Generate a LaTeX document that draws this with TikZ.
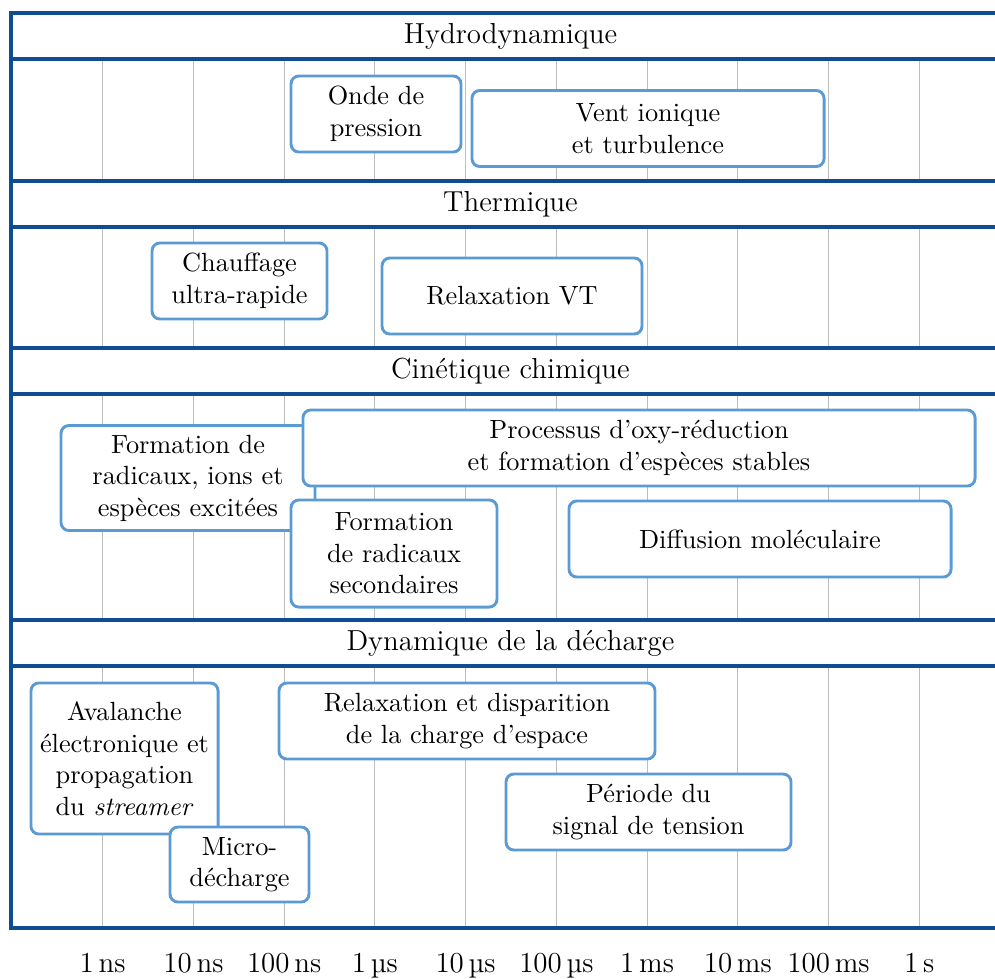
\documentclass[tikz,border=0pt]{standalone}
\usepackage{xcolor}
\usepackage{tikz}

\definecolor{bleufonce}{RGB}{16,76,145}
\definecolor{bleuclair}{RGB}{91,155,213}
\definecolor{grisgrille}{RGB}{190,190,190}

\tikzset{
	cadre/.style = {draw=bleufonce, line width=1.2pt},
	grille/.style = {draw=grisgrille, line width=0.4pt},
	titre/.style = {font=\fontsize{11}{13.6}\selectfont},
	proc/.style = {draw=bleuclair, line width=1.1pt, rounded corners=3pt, fill=white,
		align=center, inner sep=2pt, minimum height=28.9pt, font=\fontsize{10}{12}\selectfont}
}

\begin{document}
\begin{tikzpicture}[x=0.38pt, y=-0.38pt]
			\useasboundingbox (0,0) rectangle (995,978);
			
			% grille des decades
			\foreach \x in {102.7,193.4,284.2,374.9,465.6,556.4,647.1,737.8,828.5,919.3}
				\foreach \ya/\yb in {59/181, 227/348, 394/620, 666/928}
					\draw [grille] (\x,\ya) -- (\x,\yb);
			
			% cadre et bandeaux
			\draw [cadre] (1010,13) -- (11,13) -- (11,928) -- (1010,928) -- cycle;
			\draw [cadre] (11,59) -- (1010,59);
			\draw [cadre] (11,181) -- (1010,181);
			\draw [cadre] (11,227) -- (1010,227);
			\draw [cadre] (11,348) -- (1010,348);
			\draw [cadre] (11,394) -- (1010,394);
			\draw [cadre] (11,620) -- (1010,620);
			\draw [cadre] (11,666) -- (1010,666);
			
			\node [titre] (hydro) at (510.5,36) {Hydrodynamique};
			\node [titre] (therm) at (510.5,204) {Thermique};
			\node [titre] (cinet) at (510.5,371) {Cinétique chimique};
			\node [titre] (dyna)  at (510.5,643) {Dynamique de la décharge};
			
			% echelle de temps
			\foreach [count=\i] \x/\t in {102.7/1\,ns, 193.4/10\,ns, 284.2/100\,ns, 374.9/1\,µs,
				465.6/10\,µs, 556.4/100\,µs, 647.1/1\,ms, 737.8/10\,ms, 828.5/100\,ms, 919.3/1\,s}
				\node [titre, anchor=base] (ech\i) at (\x,972) {\t};
			
			% hydrodynamique
			\node [proc, minimum width=64.6pt] (onde) at (376,114) {Onde de\\pression};
			\node [proc, minimum width=133.8pt] (vent) at (648,128.5) {Vent ionique\\et turbulence};
			
			% thermique
			\node [proc, minimum width=66.5pt] (chauf) at (239.5,281) {Chauffage\\ultra-rapide};
			\node [proc, minimum width=98.8pt] (relaxvt) at (512,296) {Relaxation VT};
			
			% cinetique chimique
			\node [proc, minimum width=96.5pt, minimum height=39.9pt] (radic) at (188,478) {Formation de\\radicaux, ions et\\espèces excitées};
			\node [proc, minimum width=255.4pt] (redox) at (639,448) {Processus d’oxy-réduction\\et formation d’espèces stables};
			\node [proc, minimum width=78.3pt, minimum height=40.7pt] (second) at (394,553.5) {Formation\\de radicaux\\secondaires};
			\node [proc, minimum width=145.2pt] (diff) at (760,539) {Diffusion moléculaire};
			
			% dynamique de la decharge
			\node [proc, minimum width=71.1pt, minimum height=57.4pt] (aval) at (124.5,758.5) {Avalanche\\électronique et\\propagation\\du \textit{streamer}};
			\node [proc, minimum width=52.8pt, minimum height=28.5pt] (micro) at (239.5,864.5) {Micro-\\décharge};
			\node [proc, minimum width=142.9pt] (charge) at (467,721) {Relaxation et disparition\\de la charge d’espace};
			\node [proc, minimum width=108.3pt] (periode) at (648.5,812) {Période du\\signal de tension};
\end{tikzpicture}
\end{document}
